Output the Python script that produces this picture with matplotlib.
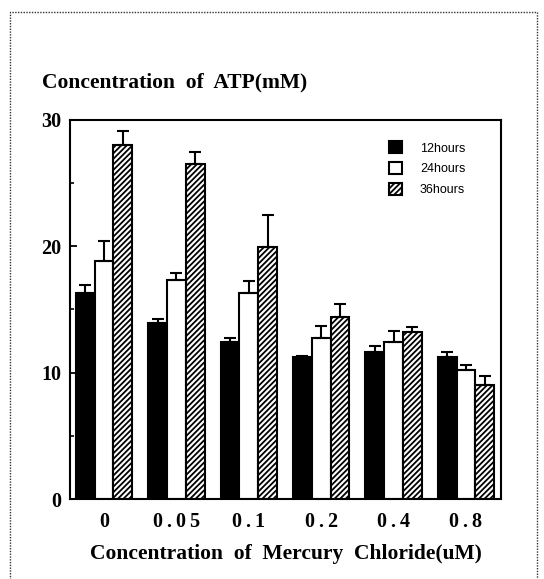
import matplotlib
matplotlib.use("Agg")
import matplotlib.pyplot as plt
import matplotlib.patches as mpatches
import numpy as np

doses = ["0", "0.05", "0.1", "0.2", "0.4", "0.8"]
series = ["12hours", "24hours", "36hours"]
atp_12h = [16.3, 13.9, 12.4, 11.2, 11.6, 11.2]
atp_24h = [18.8, 17.3, 16.3, 12.7, 12.4, 10.2]
atp_36h = [28.0, 26.5, 19.9, 14.4, 13.2, 9.0]
err_12h = [0.6, 0.35, 0.3, 0.1, 0.5, 0.45]
err_24h = [1.6, 0.55, 0.95, 1.0, 0.9, 0.4]
err_36h = [1.1, 0.95, 2.55, 1.0, 0.4, 0.75]

plt.rcParams["hatch.linewidth"] = 1.3
serif = "Liberation Serif"

fig = plt.figure(figsize=(5.44, 5.79), dpi=100)
ax = fig.add_axes([0.1287, 0.138, 0.7923, 0.6556])

x = np.arange(len(doses))
w = 0.26
styles = [
    dict(color="black", edgecolor="black"),
    dict(color="white", edgecolor="black"),
    dict(color="white", edgecolor="black", hatch="//////"),
]
vals = [atp_12h, atp_24h, atp_36h]
errs = [err_12h, err_24h, err_36h]
for i in range(3):
    pos = x + (i - 1) * w
    ax.bar(pos, vals[i], w, linewidth=1.5, label=series[i], zorder=2, **styles[i])
    ax.errorbar(pos, vals[i], yerr=[np.zeros(len(doses)), errs[i]], fmt="none",
                ecolor="black", elinewidth=1.5, capsize=4, capthick=1.5, zorder=3)

ax.set_xlim(-0.47, 5.485)
ax.set_ylim(0, 30)
ax.set_yticks([0, 10, 20, 30])
ax.set_yticks([5, 15, 25], minor=True)
ax.set_xticks(x)
# the print spreads the digits apart a little
ax.set_xticklabels(["\u2009".join(d) for d in doses])
ax.tick_params(axis="y", which="major", direction="in", length=5, width=1.3, pad=6)
ax.tick_params(axis="y", which="minor", direction="in", length=3, width=1.2)
ax.tick_params(axis="x", length=0, pad=9)
for lab in ax.get_yticklabels() + ax.get_xticklabels():
    lab.set_fontfamily(serif)
    lab.set_fontweight("bold")
    lab.set_fontsize(14.5)
for s in ax.spines.values():
    s.set_linewidth(1.5)

ax.set_xlabel("Concentration  of  Mercury  Chloride(uM)", fontfamily=serif,
              fontweight="bold", fontsize=15.5, labelpad=9)
fig.text(0.077, 0.857, "Concentration  of  ATP(mM)", fontfamily=serif,
         fontweight="bold", fontsize=15.5, va="center", ha="left")

leg = ax.legend(loc="upper left", bbox_to_anchor=(0.713, 0.972), frameon=False,
                prop={"family": "Liberation Sans", "size": 9},
                handlelength=1.1, handleheight=1.1, handletextpad=1.4,
                labelspacing=0.6)

frame = mpatches.Rectangle((10 / 544, -0.05), 527 / 544, 0.05 + 1 - 12 / 579,
                           transform=fig.transFigure, fill=False,
                           linestyle=(0, (1, 1)), linewidth=1.0, edgecolor="#333333")
fig.patches.append(frame)

fig.savefig("out.png", dpi=100)
